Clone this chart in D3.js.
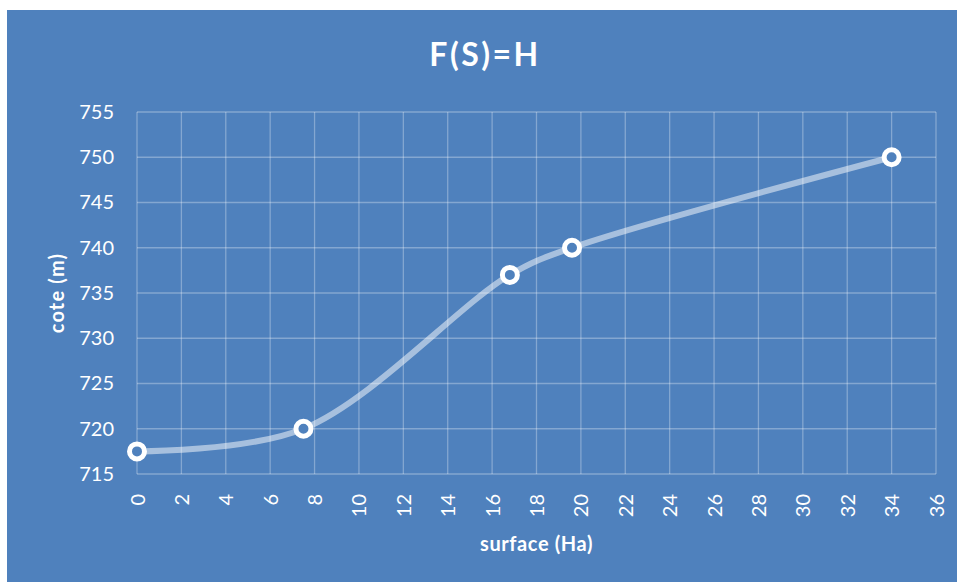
<!DOCTYPE html>
<html>
<head>
<meta charset="utf-8">
<script src="https://cdn.jsdelivr.net/npm/d3@7"></script>
<style>
  html, body { margin: 0; padding: 0; background: #ffffff; }
  svg { display: block; }
  text { font-family: Lato, "Open Sans", sans-serif; fill: #ffffff; }
</style>
</head>
<body>
<svg id="chart" width="957" height="582"></svg>
<script>
// Surface (Ha) vs. water level (m)
const surface = [0, 7.5, 16.8, 19.6, 34];
const cote = [717.5, 720, 737, 740, 750];
const xTicks = d3.range(0, 37, 2);
const yTicks = d3.range(715, 756, 5);
const title = "F(S)=H";
const xTitle = "surface (Ha)";
const yTitle = "cote (m)";

const svg = d3.select("#chart");
const bg = "#4f81bd";

svg.append("rect")
  .attr("x", 7).attr("y", 10)
  .attr("width", 950).attr("height", 572)
  .attr("fill", bg);

const plot = { left: 137, right: 936, top: 112, bottom: 474 };

const x = d3.scaleLinear().domain([0, 36]).range([plot.left, plot.right]);
const y = d3.scaleLinear().domain([715, 755]).range([plot.bottom, plot.top]);

// Gridlines
const grid = svg.append("g").attr("stroke", "rgba(255,255,255,0.3)").attr("stroke-width", 1.3);
grid.selectAll(".vg").data(xTicks).join("line")
  .attr("x1", d => x(d)).attr("x2", d => x(d))
  .attr("y1", plot.top).attr("y2", plot.bottom);
grid.selectAll(".hg").data(yTicks).join("line")
  .attr("x1", plot.left).attr("x2", plot.right)
  .attr("y1", d => y(d)).attr("y2", d => y(d));

// Y axis labels
const yAxis = d3.axisLeft(y).tickValues(yTicks).tickSize(0).tickPadding(23);
const gy = svg.append("g").attr("transform", `translate(${plot.left},0)`).call(yAxis);
gy.select(".domain").remove();
gy.selectAll("text").attr("font-size", 20).attr("fill", "#fff")
  .style("font-family", "Lato, 'Open Sans', sans-serif");

// X axis labels (rotated)
const xAxis = d3.axisBottom(x).tickValues(xTicks).tickSize(0);
const gx = svg.append("g").attr("transform", `translate(0,${plot.bottom})`).call(xAxis);
gx.select(".domain").remove();
gx.selectAll("text")
  .attr("font-size", 20).attr("fill", "#fff")
  .style("font-family", "Lato, 'Open Sans', sans-serif")
  .attr("text-anchor", "end")
  .attr("dy", "0.35em")
  .attr("transform", "translate(0,20) rotate(-90)")
  .attr("x", 0).attr("y", 0);

// Smoothed line
const pts = surface.map((s, i) => [s, cote[i]]);
const line = d3.line()
  .x(d => x(d[0])).y(d => y(d[1]))
  .curve(d3.curveCatmullRom.alpha(0.5));
svg.append("path")
  .datum(pts)
  .attr("d", line)
  .attr("fill", "none")
  .attr("stroke", "rgba(255,255,255,0.5)")
  .attr("stroke-width", 6)
  .attr("stroke-linecap", "round");

// Markers
svg.append("g").selectAll("circle").data(pts).join("circle")
  .attr("cx", d => x(d[0])).attr("cy", d => y(d[1]))
  .attr("r", 7.5)
  .attr("fill", bg)
  .attr("stroke", "#ffffff")
  .attr("stroke-width", 5);

// Titles
svg.append("text")
  .attr("x", 485).attr("y", 66)
  .attr("text-anchor", "middle")
  .attr("font-size", 32).attr("font-weight", "bold")
  .attr("letter-spacing", 2.5)
  .text(title);

svg.append("text")
  .attr("x", (plot.left + plot.right) / 2).attr("y", 551)
  .attr("text-anchor", "middle")
  .attr("font-size", 20).attr("font-weight", "bold")
  .attr("letter-spacing", 0.6)
  .text(xTitle);

svg.append("text")
  .attr("transform", `translate(64,${(plot.top + plot.bottom) / 2}) rotate(-90)`)
  .attr("text-anchor", "middle")
  .attr("font-size", 20).attr("font-weight", "bold")
  .attr("letter-spacing", 1.2)
  .text(yTitle);
</script>
</body>
</html>
